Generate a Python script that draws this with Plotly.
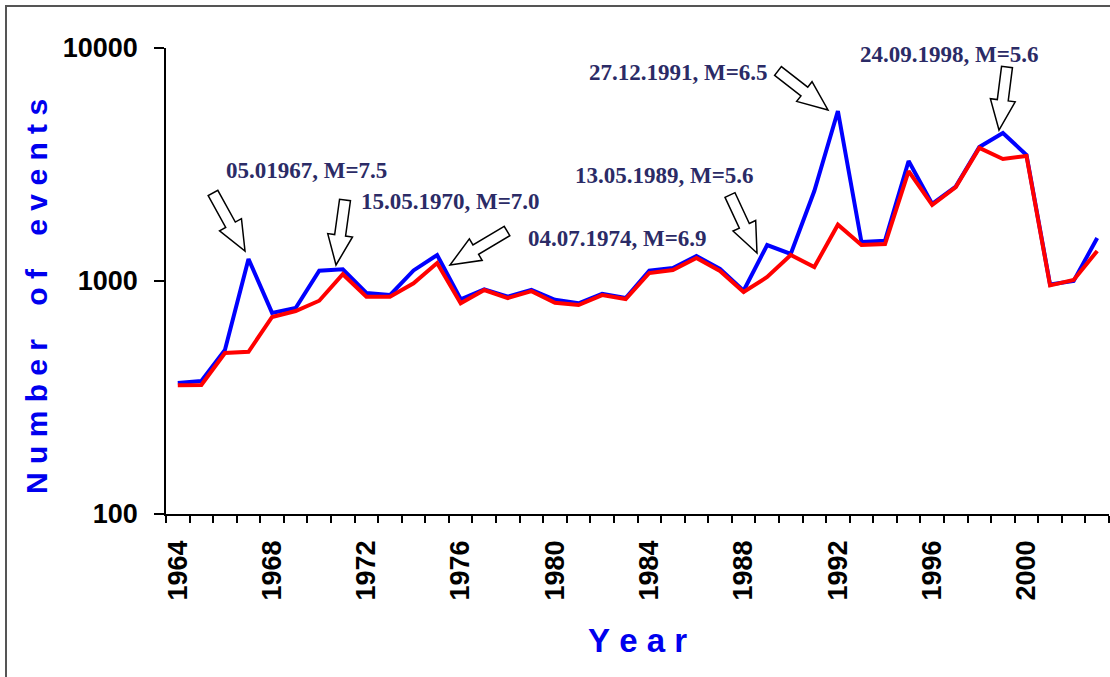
import math
import plotly.graph_objects as go

# ---------------- data ----------------
years = list(range(1964, 2004))
all_events = [365, 372, 506, 1243, 730, 766, 1107, 1122, 888, 870,
              1110, 1293, 835, 921, 856, 915, 830, 802, 880, 845,
              1107, 1137, 1280, 1126, 909, 1427, 1306, 2433, 5365, 1470,
              1490, 3273, 2141, 2542, 3760, 4316, 3474, 966, 1000, 1530]
declustered = [357, 358, 491, 497, 701, 743, 823, 1069, 856, 856,
               978, 1195, 802, 915, 845, 905, 807, 789, 870, 837,
               1082, 1115, 1255, 1104, 897, 1040, 1293, 1148, 1744, 1427,
               1440, 2965, 2119, 2531, 3724, 3339, 3440, 957, 1010, 1346]
label_years = list(range(1964, 2001, 4))
y_tickvals = [100, 1000, 10000]
y_ticktext = ["100", "1000", "10000"]

event_labels = ["05.01967, M=7.5", "15.05.1970, M=7.0", "04.07.1974, M=6.9",
                "13.05.1989, M=5.6", "27.12.1991, M=6.5", "24.09.1998, M=5.6"]

# ---------------- layout geometry (pixels) ----------------
W, H = 1110, 677
L, R, T, B = 166, 1, 48, 163
PW = W - L - R
PH = H - T - B


def px(x):
    return (x - L) / PW


def py(y):
    return (H - B - y) / PH


# label centres and arrows (tail, tip) in pixel positions
label_pos = [(306, 170), (450, 201), (617, 238), (664, 175), (678, 73), (949, 54)]
arrows = [((213, 193), (245, 251)),
          ((345, 200), (336, 265)),
          ((507, 231), (450, 265)),
          ((730, 195), (757, 253)),
          ((778, 71), (828, 110)),
          ((1007, 67), (999, 130))]


def arrow_path(tail, tip, sw=11, hw=25, hl=30):
    dx, dy = tip[0] - tail[0], tip[1] - tail[1]
    ln = math.hypot(dx, dy)
    ux, uy = dx / ln, dy / ln
    nx, ny = -uy, ux
    bx, by = tip[0] - ux * hl, tip[1] - uy * hl
    pts = [
        (tail[0] + nx * sw / 2, tail[1] + ny * sw / 2),
        (bx + nx * sw / 2, by + ny * sw / 2),
        (bx + nx * hw / 2, by + ny * hw / 2),
        tip,
        (bx - nx * hw / 2, by - ny * hw / 2),
        (bx - nx * sw / 2, by - ny * sw / 2),
        (tail[0] - nx * sw / 2, tail[1] - ny * sw / 2),
    ]
    return "M " + " L ".join(f"{px(x):.5f},{py(y):.5f}" for x, y in pts) + " Z"


fig = go.Figure()
fig.add_trace(go.Scatter(x=years, y=all_events, mode="lines",
                         line=dict(color="#0000ff", width=4), name="all"))
fig.add_trace(go.Scatter(x=years, y=declustered, mode="lines",
                         line=dict(color="#ff0000", width=4), name="declustered"))

shapes = [dict(type="rect", xref="paper", yref="paper",
               x0=px(6), x1=px(1120), y0=py(690), y1=py(6),
               line=dict(color="#555555", width=2), layer="below")]
for tail, tip in arrows:
    shapes.append(dict(type="path", xref="paper", yref="paper",
                       path=arrow_path(tail, tip),
                       fillcolor="white", line=dict(color="black", width=1.5),
                       layer="above"))

annotations = []
for txt, (cx, cy) in zip(event_labels, label_pos):
    annotations.append(dict(text=txt, xref="paper", yref="paper",
                            x=px(cx), y=py(cy), xanchor="center", yanchor="middle",
                            showarrow=False,
                            font=dict(family="Liberation Serif, Times New Roman, serif",
                                      size=23, color="#2b2b66", weight="bold")))

nb = "\u00a0"
ytitle = (nb * 4).join(nb.join(list(w)) for w in ["Number", "of", "events"])
xtitle = nb.join(list("Year"))
title_font = dict(family="Liberation Sans, Arial", color="#0000ee", weight="bold")

annotations.append(dict(text=ytitle, xref="paper", yref="paper",
                        x=px(36), y=py(297), xanchor="center", yanchor="middle",
                        textangle=-90, showarrow=False, font=dict(size=30, **title_font)))
annotations.append(dict(text=xtitle, xref="paper", yref="paper",
                        x=px(637), y=py(640), xanchor="center", yanchor="middle",
                        showarrow=False, font=dict(size=33, **title_font)))

fig.update_layout(
    width=W, height=H,
    margin=dict(l=L, r=R, t=T, b=B),
    paper_bgcolor="white", plot_bgcolor="white",
    showlegend=False,
    shapes=shapes, annotations=annotations,
    xaxis=dict(
        range=[1963.5, 2003.5], tickmode="array", tickvals=label_years,
        ticks="", tickangle=-90, ticklabelstandoff=14,
        tickfont=dict(family="Liberation Sans, Arial", size=27, color="black", weight="bold"),
        showline=True, linecolor="black", linewidth=1.5, showgrid=False, zeroline=False,
        minor=dict(tickmode="array", tickvals=[1963.5 + i for i in range(41)],
                   ticks="outside", ticklen=7, tickcolor="black", tickwidth=1.5,
                   showgrid=False),
    ),
    yaxis=dict(
        type="log", range=[2, 4], tickmode="array", tickvals=y_tickvals, ticktext=y_ticktext,
        ticks="outside", ticklen=10, tickwidth=1.5, tickcolor="black", ticklabelstandoff=11,
        tickfont=dict(family="Liberation Sans, Arial", size=27, color="black", weight="bold"),
        showline=True, linecolor="black", linewidth=1.5, showgrid=False, zeroline=False,
    ),
)

fig.write_html("out.html", config={"displayModeBar": False},
               post_script="document.body.style.margin='0px';")
